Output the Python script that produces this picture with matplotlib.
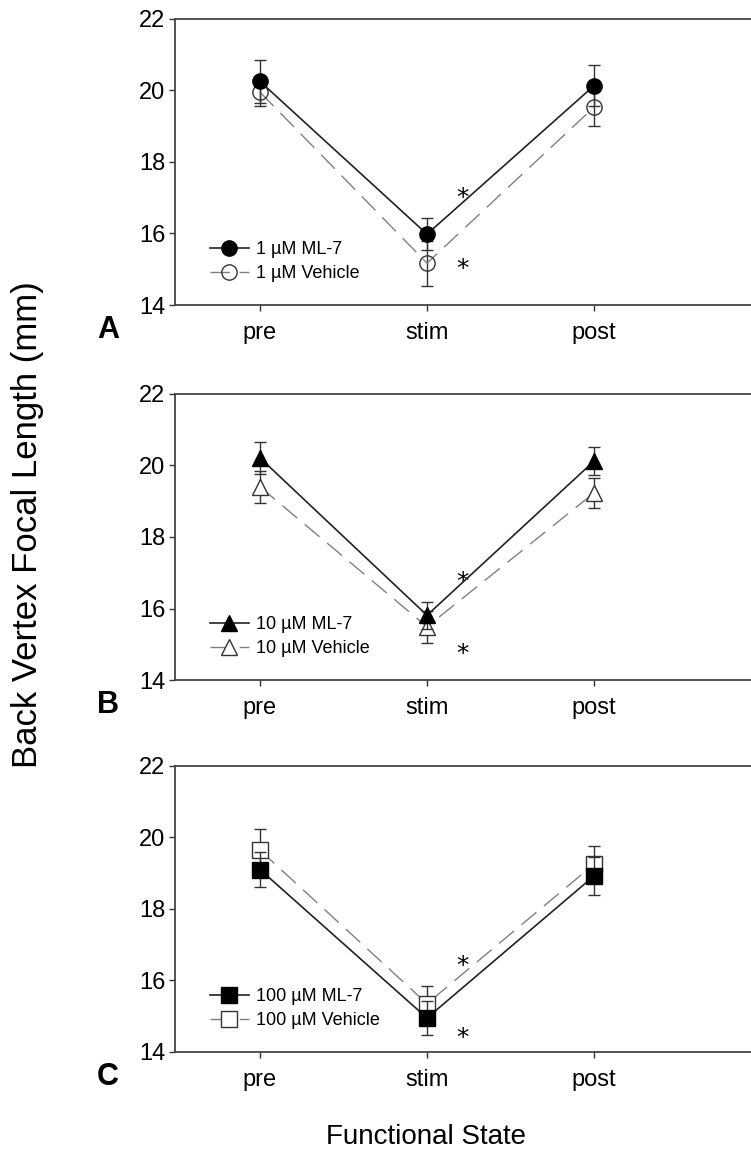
import numpy as np
import matplotlib.pyplot as plt

states = ['pre', 'stim', 'post']
doses = ['1', '10', '100']
panel_labels = ['A', 'B', 'C']
markers = ['o', '^', 's']

ml7_mean = [[20.25, 15.98, 20.13], [20.21, 15.81, 20.12], [19.10, 14.95, 18.92]]
ml7_err = [[0.60, 0.45, 0.58], [0.45, 0.38, 0.40], [0.50, 0.47, 0.52]]
veh_mean = [[19.95, 15.17, 19.53], [19.40, 15.49, 19.23], [19.64, 15.35, 19.25]]
veh_err = [[0.40, 0.63, 0.52], [0.44, 0.45, 0.41], [0.58, 0.50, 0.50]]
star_y = [[16.98, 15.00], [16.74, 14.73], [16.40, 14.39]]

plt.rcParams['font.family'] = ['Liberation Sans', 'DejaVu Sans']

fig = plt.figure(figsize=(7.51, 11.54), dpi=100)
bottoms = [0.7357, 0.4107, 0.0884]
x = np.arange(3)

for i in range(3):
    ax = fig.add_axes([0.233, bottoms[i], 0.767, 0.248])
    mk = markers[i]
    ms = 12 if mk == '^' else 11
    face = 'none' if mk == 'o' else 'white'
    veh_style = dict(color='#808080', ls=(0, (14, 7)), lw=1, marker=mk, ms=ms,
                     mfc=face, mec='#333333', mew=1)
    ml7_style = dict(color='#222222', ls='-', lw=1.2, marker=mk, ms=ms,
                     mfc='black', mec='black')
    ax.errorbar(x, veh_mean[i], yerr=veh_err[i], ecolor='#333333', elinewidth=1,
                capsize=4.5, capthick=1, zorder=2, **veh_style)
    ax.errorbar(x, ml7_mean[i], yerr=ml7_err[i], ecolor='#333333', elinewidth=1,
                capsize=4.5, capthick=1, zorder=3, **ml7_style)
    # legend handles without error bars
    h1, = ax.plot([], [], label=doses[i] + ' µM ML-7', **ml7_style)
    h2, = ax.plot([], [], label=doses[i] + ' µM Vehicle', **veh_style)
    for yy in star_y[i]:
        ax.text(1.215, yy, '*', ha='center', va='center', fontsize=18, family='DejaVu Sans')
    ax.set_xlim(-0.509, 2.94)
    ax.set_ylim(14, 22)
    ax.set_yticks([14, 16, 18, 20, 22])
    ax.set_xticks(x)
    ax.set_xticklabels(states)
    ax.tick_params(axis='both', labelsize=17, direction='out', length=4, width=1,
                   color='#333333')
    ax.tick_params(axis='x', pad=8)
    ax.tick_params(axis='y', pad=3)
    ax.spines['right'].set_visible(False)
    for s in ['left', 'bottom', 'top']:
        ax.spines[s].set_color('#444444')
        ax.spines[s].set_linewidth(1.3)
    ax.legend([h1, h2], [h1.get_label(), h2.get_label()], loc='lower left',
              bbox_to_anchor=(0.06, 0.08), frameon=False, fontsize=13,
              handlelength=2.2, handletextpad=0.4, labelspacing=0.4,
              borderaxespad=0, borderpad=0)
    fig.text(0.144, bottoms[i] - 0.022, panel_labels[i], fontsize=22, fontweight='bold',
             ha='center', va='center')

fig.text(0.036, 0.545, 'Back Vertex Focal Length (mm)', rotation=90, ha='center',
         va='center', fontsize=25)
fig.text(0.567, 0.015, 'Functional State', ha='center', va='center', fontsize=20)

fig.savefig('out.png', dpi=100)
